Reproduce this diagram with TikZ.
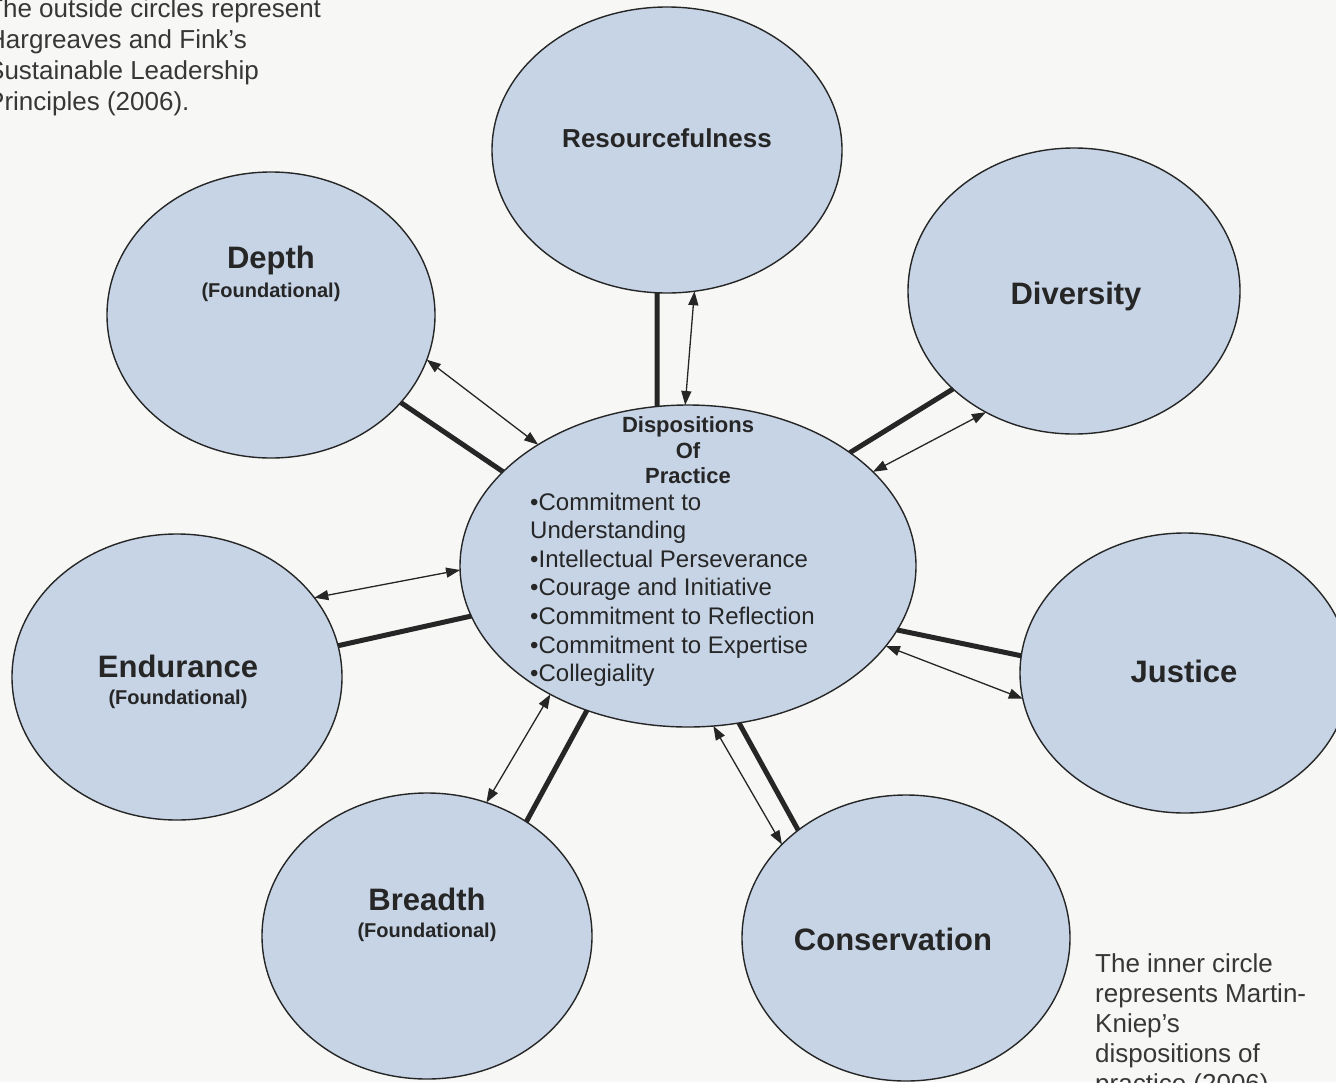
\documentclass[tikz,border=0pt]{standalone}
\usepackage{fontspec}
\setmainfont{Liberation Sans}
\usetikzlibrary{arrows.meta,shapes.geometric}
\definecolor{bg}{RGB}{247,247,245}
\definecolor{ellfill}{RGB}{198,212,230}
\definecolor{ink}{RGB}{38,38,38}
\definecolor{txtgray}{RGB}{55,55,55}
\begin{document}
\begin{tikzpicture}[x=1pt,y=-1pt,
  ell/.style={ellipse, draw=ink, line width=1.4pt, fill=ellfill, inner sep=0pt, outer sep=0pt},
  thickcon/.style={line width=5pt, draw=ink},
  thincon/.style={line width=1.3pt, draw=ink, {Triangle[length=14pt,width=10pt]}-{Triangle[length=14pt,width=10pt]}},
  biglbl/.style={text=ink, font=\bfseries\fontsize{31}{36}\selectfont, inner sep=0pt, anchor=base},
  sublbl/.style={text=ink, font=\bfseries\fontsize{20}{24}\selectfont, inner sep=0pt, anchor=base},
  headlbl/.style={text=ink, font=\bfseries\fontsize{22}{26}\selectfont, inner sep=0pt, anchor=base},
  itemlbl/.style={text=ink, font=\fontsize{24}{28}\selectfont, inner sep=0pt, anchor=base west},
  note/.style={text=txtgray, font=\fontsize{26}{30}\selectfont, inner sep=0pt, anchor=base west}
]
\useasboundingbox (0,0) rectangle (1336,1082);
\clip (0,0) rectangle (1336,1082);
\fill[bg] (0,0) rectangle (1336,1082);

% ellipses
\node[ell, minimum width=350pt, minimum height=286pt] (R)  at (667,150) {};
\node[ell, minimum width=328pt, minimum height=286pt] (Dp) at (271,315) {};
\node[ell, minimum width=332pt, minimum height=286pt] (Dv) at (1074,291) {};
\node[ell, minimum width=330pt, minimum height=286pt] (E)  at (177,677) {};
\node[ell, minimum width=330pt, minimum height=280pt] (J)  at (1185,673) {};
\node[ell, minimum width=330pt, minimum height=286pt] (B)  at (427,936) {};
\node[ell, minimum width=328pt, minimum height=286pt] (C)  at (906,938) {};
\node[ell, minimum width=456pt, minimum height=322pt] (M)  at (688,566) {};

% connectors
\draw[thickcon] (R.-94.4) -- (M.101.4);
\draw[thincon]  (R.-79.7) -- (M.91.1);
\draw[thickcon] (Dp.-34.6) -- (M.153.8);
\draw[thincon]  (Dp.-16.0) -- (M.141.7);
\draw[thickcon] (Dv.-141.1) -- (M.35.9);
\draw[thincon]  (Dv.-126.7) -- (M.27.06);
\draw[thickcon] (J.174.8) -- (M.-17.3);
\draw[thincon]  (J.-171.0) -- (M.-22.9);
\draw[thickcon] (E.11.1) -- (M.193.6);
\draw[thincon]  (E.30.3) -- (M.181.5);
\draw[thickcon] (B.49.3) -- (M.-125.0);
\draw[thincon]  (B.66.5) -- (M.-137.3);
\draw[thickcon] (C.135.8) -- (M.-72.6);
\draw[thincon]  (C.143.6) -- (M.-81.7);

% outer labels
\node[text=ink, font=\bfseries\fontsize{26}{30}\selectfont, inner sep=0pt, anchor=base] (tR) at (667,147) {Resourcefulness};
\node[biglbl] (tDp) at (271,268) {Depth};
\node[sublbl] (tDpf) at (271,297) {(Foundational)};
\node[biglbl] (tDv) at (1076,304) {Diversity};
\node[biglbl] (tE) at (178,677) {Endurance};
\node[sublbl] (tEf) at (178,704) {(Foundational)};
\node[biglbl] (tJ) at (1184,682) {Justice};
\node[biglbl] (tB) at (427,910) {Breadth};
\node[sublbl] (tBf) at (427,937) {(Foundational)};
\node[biglbl] (tC) at (893,950) {Conservation};

% centre labels
\node[headlbl] (h1) at (688,432) {Dispositions};
\node[headlbl] (h2) at (688,458) {Of};
\node[headlbl] (h3) at (688,483) {Practice};
\node[itemlbl] (i1) at (530,510) {•Commitment to};
\node[itemlbl] (i2) at (530,538) {Understanding};
\node[itemlbl] (i3) at (530,567) {•Intellectual Perseverance};
\node[itemlbl] (i4) at (530,595) {•Courage and Initiative};
\node[itemlbl] (i5) at (530,624) {•Commitment to Reflection};
\node[itemlbl] (i6) at (530,653) {•Commitment to Expertise};
\node[itemlbl] (i7) at (530,681) {•Collegiality};

% notes
\node[note] (n1) at (-13,17)  {The outside circles represent};
\node[note] (n2) at (-13,48)  {Hargreaves and Fink’s};
\node[note] (n3) at (-13,79)  {Sustainable Leadership};
\node[note] (n4) at (-13,110) {Principles (2006).};

\node[note] (m1) at (1095,972)  {The inner circle};
\node[note] (m2) at (1095,1002) {represents Martin-};
\node[note] (m3) at (1095,1032) {Kniep’s};
\node[note] (m4) at (1095,1062) {dispositions of};
\node[note] (m5) at (1095,1092) {practice (2006).};
\end{tikzpicture}
\end{document}
